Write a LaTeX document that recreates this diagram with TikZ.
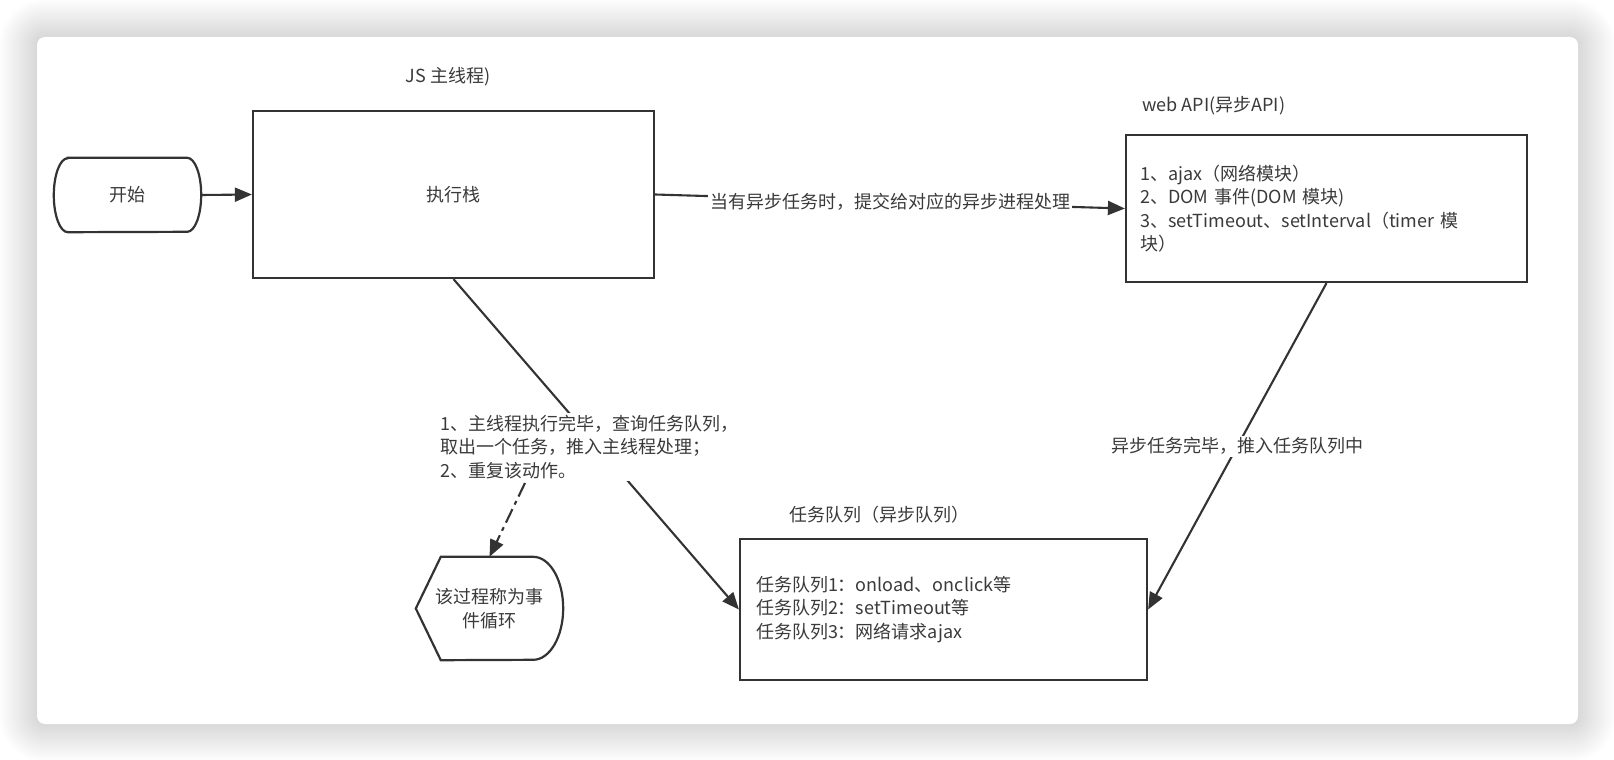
\documentclass[tikz,border=0pt]{standalone}
\usepackage{fontspec}
\setmainfont{Noto Sans CJK SC}
\usetikzlibrary{arrows.meta,calc}
\definecolor{ln}{HTML}{333333}
\definecolor{tx}{HTML}{3A3A3A}
\begin{document}
\begin{tikzpicture}[x=1pt,y=-1pt,
  every node/.style={font=\fontsize{18}{23.5}\selectfont, text=tx},
  box/.style={draw=ln, line width=2.2pt, fill=white, inner sep=0pt},
  conn/.style={draw=ln, line width=2.1pt, -{Triangle[length=17pt,width=14pt]}},
  lbl/.style={fill=white, inner sep=2pt},
  outline/.style={draw=ln, line width=2.2pt},
]
\useasboundingbox (0,0) rectangle (1614,760);
\fill[white] (0,0) rectangle (1614,760);
% card shadow
\foreach \i in {1,...,38}{
  \pgfmathsetmacro\rr{8+\i}
  \fill[black,opacity=0.0046,rounded corners=\rr pt] (37-\i,37-\i) rectangle (1578+\i,724+\i);
}
\fill[white, rounded corners=8pt] (37,37) rectangle (1578,724);

% nodes
\node[minimum width=147pt, minimum height=74pt, inner sep=0pt] (start) at (127.5,195) {开始};
\draw[outline] ($(start.north west)+(14,0)$) -- ($(start.north east)+(-14,0)$)
  arc[start angle=90, end angle=-90, x radius=14pt, y radius=37pt]
  -- ($(start.south west)+(14,0)$)
  arc[start angle=270, end angle=90, x radius=14pt, y radius=37pt] -- cycle;

\node[box, minimum width=401pt, minimum height=167pt] (stack) at (453.5,194.5) {执行栈};
\node (jslbl) at (448,77) {JS 主线程)};

\node[box, minimum width=401pt, minimum height=147pt, text width=373pt, align=left, inner xsep=14pt] (api) at (1326.5,208.5)
  {1、ajax（网络模块）\\2、DOM 事件(DOM 模块)\\3、setTimeout、setInterval（timer 模\\块）};
\node[anchor=west, inner sep=0pt] (apilbl) at (1142,106) {web API(异步API)};

\node[box, minimum width=407pt, minimum height=141pt, text width=375pt, align=left, inner xsep=16pt] (task) at (943.5,609.5)
  {任务队列1：onload、onclick等\\任务队列2：setTimeout等\\任务队列3：网络请求ajax};
\node (tasklbl) at (879,515) {任务队列（异步队列）};

\node[minimum width=147pt, minimum height=103pt, inner sep=0pt, align=center] (loop) at (489.5,608.5) {该过程称为事\\件循环};
\draw[outline] ($(loop.west)$) -- ($(loop.north west)+(25,0)$) -- ($(loop.north east)+(-30,0)$)
  arc[start angle=90, end angle=-90, x radius=30pt, y radius=51.5pt]
  -- ($(loop.south west)+(25,0)$) -- cycle;

% connectors
\draw[conn] (start.east) -- (stack.west);
\draw[conn] (stack.east) -- (api.west) node[midway, lbl] (asynclbl) {当有异步任务时，提交给对应的异步进程处理};
\draw[conn] (stack.south) -- (task.west);
\draw[conn] (api.south) -- (task.east) node[midway, lbl] (donelbl) {异步任务完毕，推入任务队列中};
\node[lbl, anchor=west, align=left] (steps) at (438,447)
  {1、主线程执行完毕，查询任务队列，\\取出一个任务，推入主线程处理；\\2、重复该动作。};
\coordinate (dd) at (525,483);
\draw[conn, dash pattern=on 15pt off 5pt on 4pt off 5pt] (dd) -- (loop.north);
\end{tikzpicture}
\end{document}
